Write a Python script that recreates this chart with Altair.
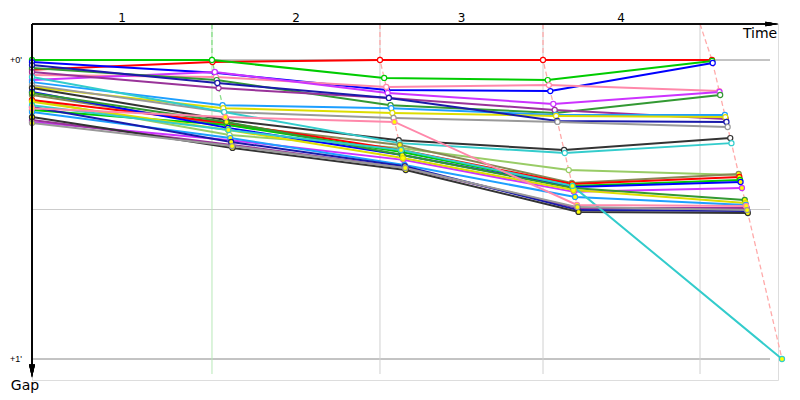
import altair as alt
import pandas as pd

# ---------------- data ----------------
drivers = [f"D{i+1}" for i in range(28)]
colors = ["#ff0000", "#00cc00", "#0000ff", "#ff88aa", "#cc33ff", "#339933", "#993399",
          "#1e9fff", "#dddd00", "#1a1aaa", "#999999", "#333333", "#33cccc", "#99cc66",
          "#888855", "#ff0000", "#00cc00", "#0000ff", "#cc33ff", "#339933", "#dddd00",
          "#1e9fff", "#993399", "#1a1aaa", "#333333", "#33cccc", "#ff88aa", "#999999"]
yellow_marker = [False] * 14 + [True] * 14

# gap to the leader, in minutes
gap_start = [0.033, 0.000, 0.007, 0.050, 0.067, 0.027, 0.040, 0.074, 0.090, 0.017, 0.084, 0.094, 0.057, 0.134,
             0.117, 0.134, 0.167, 0.107, 0.207, 0.110, 0.140, 0.174, 0.201, 0.157, 0.191, 0.151, 0.161, 0.211]
gap_lap1 = [0.007, 0.000, 0.043, 0.057, 0.040, 0.067, 0.094, 0.151, 0.161, 0.077, 0.174, 0.201, 0.174, 0.251,
            0.217, 0.211, 0.217, 0.227, 0.268, 0.207, 0.234, 0.261, 0.284, 0.274, 0.294, 0.234, 0.191, 0.288]
gap_lap2 = [0.000, 0.060, 0.100, 0.090, 0.110, 0.151, 0.127, 0.161, 0.177, 0.127, 0.194, 0.268, 0.278, 0.294,
            0.284, 0.301, 0.308, 0.318, 0.334, 0.318, 0.328, 0.351, 0.361, 0.355, 0.368, 0.301, 0.207, 0.361]
gap_lap3 = [0.000, 0.067, 0.104, 0.084, 0.147, 0.177, 0.167, 0.184, 0.187, 0.204, 0.207, 0.301, 0.311, 0.368,
            0.411, 0.415, 0.421, 0.425, 0.441, 0.428, 0.435, 0.458, 0.495, 0.502, 0.508, 0.421, 0.485, 0.492]
gap_lap4 = [0.000, 0.003, 0.010, 0.104, 0.107, 0.117, 0.197, 0.184, 0.191, 0.207, 0.224, 0.261, 0.278, 0.385,
            0.381, 0.391, 0.401, 0.408, 0.428, 0.468, 0.478, 0.485, 0.495, 0.505, 0.512, 1.000, 0.488, 0.502]

leader_time = [0.0, 2.571, 4.971, 7.300, 9.714]   # race time of the leader at each lap (min)
lap_lines = [2.571, 4.971, 7.300, 9.543]           # vertical reference lines
lap_line_colors = ["#b8e8b8", "#d0d0d0", "#d0d0d0", "#d0d0d0"]
dash_colors = ["#88dd88", "#ffaaaa", "#ffaaaa", "#ffaaaa"]
lap_labels = ["1", "2", "3", "4"]
lap_label_time = [1.286, 3.771, 6.136, 8.414]
gap_ticks = [0.0, 1.0]
gap_tick_labels = ["+0'", "+1'"]
grid_gaps = [0.0, 0.5, 1.0]
grid_colors = ["#888888", "#cccccc", "#888888"]

Y_TOP, Y_BOTTOM = -0.1204, 1.0702
X_MAX = 10.657

# ---------------- tables ----------------
all_gaps = [gap_start, gap_lap1, gap_lap2, gap_lap3, gap_lap4]
rows = []
for i, d in enumerate(drivers):
    for lap in range(5):
        g = all_gaps[lap][i]
        t = 0.0 if lap == 0 else leader_time[lap] + g
        rows.append(dict(driver=d, color=colors[i],
                         fillc="#ffff00" if yellow_marker[i] else "#ffffff",
                         lap=lap, gap=g, time=t))
df = pd.DataFrame(rows)

dash_rows = []
for lap in range(1, 5):
    dash_rows.append(dict(lap=lap, seq=-1.0, time=lap_lines[lap - 1], gap=Y_TOP, dcolor=dash_colors[lap - 1]))
    sub = df[df.lap == lap].sort_values("gap")
    for k, r in enumerate(sub.itertuples()):
        dash_rows.append(dict(lap=lap, seq=float(k), time=r.time, gap=r.gap, dcolor=dash_colors[lap - 1]))
dash_df = pd.DataFrame(dash_rows)

vline_df = pd.DataFrame(dict(time=lap_lines, c=lap_line_colors))
grid_df = pd.DataFrame(dict(gap=grid_gaps, c=grid_colors))
lab_df = pd.DataFrame(dict(time=lap_label_time, label=lap_labels))
ytick_df = pd.DataFrame(dict(gap=gap_ticks, label=gap_tick_labels))

xs = alt.Scale(domain=[0, X_MAX], nice=False, zero=False)
ys = alt.Scale(domain=[Y_TOP, Y_BOTTOM], nice=False, zero=False, reverse=True)
X = lambda f="time": alt.X(f"{f}:Q", scale=xs, axis=None)
Y = lambda f="gap": alt.Y(f"{f}:Q", scale=ys, axis=None)

FONT = "DejaVu Sans"

grid = alt.Chart(grid_df).mark_rule(strokeWidth=1).encode(
    x=alt.value(0), x2=alt.value(738), y=Y(), color=alt.Color("c:N", scale=None))

vlines = alt.Chart(vline_df).mark_rule(strokeWidth=1).encode(
    x=X(), y=alt.value(0), y2=alt.value(350), color=alt.Color("c:N", scale=None))

dashes = alt.Chart(dash_df).mark_line(strokeDash=[5, 3], strokeWidth=1.3).encode(
    x=X(), y=Y(), detail="lap:N", order="seq:Q", color=alt.Color("dcolor:N", scale=None))

lines = alt.Chart(df).mark_line(strokeWidth=2).encode(
    x=X(), y=Y(), detail="driver:N", order="lap:Q", color=alt.Color("color:N", scale=None))

points = alt.Chart(df).mark_point(shape="circle", filled=True, size=26, strokeWidth=1.2, opacity=1).encode(
    x=X(), y=Y(), fill=alt.Fill("fillc:N", scale=None), stroke=alt.Stroke("color:N", scale=None))

top_axis = alt.Chart(lab_df).mark_rule(color="black", strokeWidth=1.2).encode(
    x=alt.value(0), x2=alt.value(740), y=alt.value(0))
top_arrow = alt.Chart(lab_df).mark_point(shape="M-1,-0.36L1,0L-1,0.36Z", filled=True, color="black",
                                          size=169, opacity=1).encode(x=alt.value(740), y=alt.value(0))
left_axis = alt.Chart(lab_df).mark_rule(color="black", strokeWidth=1.2).encode(
    x=alt.value(0), y=alt.value(0), y2=alt.value(345))
left_arrow = alt.Chart(lab_df).mark_point(shape="M-0.46,-1L0,1L0.46,-1Z", filled=True, color="black",
                                           size=169, opacity=1).encode(x=alt.value(0), y=alt.value(347))

lap_text = alt.Chart(lab_df).mark_text(font=FONT, fontSize=12, fontWeight="normal", color="black",
                                       baseline="middle").encode(
    x=X(), y=alt.value(-6), text="label:N")
ytick_text = alt.Chart(ytick_df).mark_text(font="Liberation Sans", fontSize=9, fontWeight="normal",
                                           color="black", align="right", baseline="middle").encode(
    x=alt.value(-10), y=Y(), text="label:N")
time_text = alt.Chart(pd.DataFrame(dict(label=["Time"]))).mark_text(
    font=FONT, fontSize=14, fontWeight="normal", color="black", baseline="middle").encode(
    x=alt.value(728), y=alt.value(10), text="label:N")
gap_text = alt.Chart(pd.DataFrame(dict(label=["Gap"]))).mark_text(
    font=FONT, fontSize=14, fontWeight="normal", color="black", baseline="middle").encode(
    x=alt.value(-7), y=alt.value(362), text="label:N")

chart = alt.layer(grid, vlines, dashes, lines, points, top_axis, top_arrow, left_axis, left_arrow,
                  lap_text, ytick_text, time_text, gap_text).properties(
    width=746, height=356,
    autosize=alt.AutoSizeParams(type="none"),
    padding={"left": 24, "top": 16, "right": 14, "bottom": 16},
).configure_view(stroke=None).configure(background="white")

chart.save("out.html", embed_options={"renderer": "svg", "actions": False})
